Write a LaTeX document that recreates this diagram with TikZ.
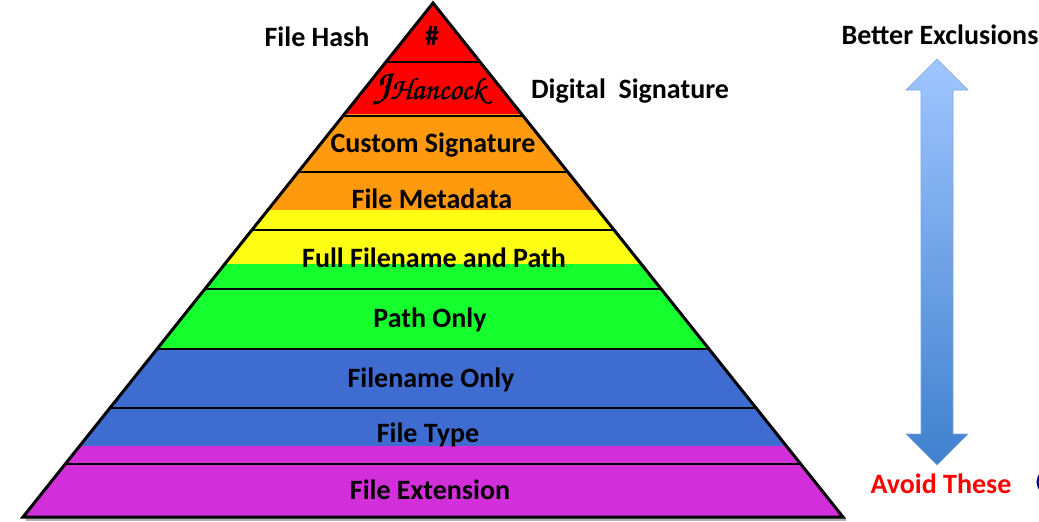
\documentclass[tikz,border=0pt]{standalone}
\usepackage{fontspec}
\setmainfont{Carlito}
\usetikzlibrary{calc}
\definecolor{cred}{HTML}{FF0000}
\definecolor{corange}{HTML}{FF9A0F}
\definecolor{cyellow}{HTML}{FFFF14}
\definecolor{cgreen}{HTML}{14FF2D}
\definecolor{cblue}{HTML}{3F6CD1}
\definecolor{cmag}{HTML}{D22FDA}
\definecolor{arrowtop}{HTML}{A0C6FF}
\definecolor{arrowbot}{HTML}{3F80CD}
\definecolor{arrowline}{HTML}{7FA6D8}
\tikzset{
  x=1pt,y=-1pt,
  divider/.style={draw=black,line width=2.5pt},
  outline/.style={draw=black,line width=3pt,line join=miter},
  lbl/.style={font=\fontsize{28}{28}\selectfont\bfseries,text=black,inner sep=0pt,anchor=base},
}
\begin{document}
\begin{tikzpicture}
\useasboundingbox (0,0) rectangle (1039,522);
\coordinate (apex) at (433,3);
\coordinate (bl) at (23,517);
\coordinate (br) at (843,517);
% soft shadow below the base
\fill[black!30] (26,518) rectangle (846,521);
\begin{scope}
\clip (apex) -- (br) -- (bl) -- cycle;
\fill[cred] (0,0) rectangle (1039,116);
\fill[corange] (0,114) rectangle (1039,210);
\fill[cyellow] (0,210) rectangle (1039,264);
\fill[cgreen] (0,264) rectangle (1039,349);
\fill[cblue] (0,349) rectangle (1039,446);
\fill[cmag] (0,446) rectangle (1039,522);
\foreach \yy in {62,116,172,230,289,349,408,464}
  \draw[divider] (0,\yy) -- (1039,\yy);
\end{scope}
\draw[outline] (apex) -- (br) -- (bl) -- cycle;
\node[lbl] (hash) at (317,46) {File Hash};
\node[lbl] (hsym) at (432,45) {\#};
\node[inner sep=0pt,anchor=base] (sig) at (429,99) {\special{pdf:code 2 Tr 0.35 w}\usefont{OT1}{pzc}{mb}{it}\fontsize{44}{44}\selectfont J\fontsize{31}{31}\selectfont Hancock\special{pdf:code 0 Tr 0 w}};
\node[lbl] (dsig) at (630,98) {Digital\ \ Signature};
\node[lbl] (cust) at (433,152) {Custom Signature};
\node[lbl] (meta) at (432,208) {File Metadata};
\node[lbl] (full) at (434,267) {Full Filename and Path};
\node[lbl] (path) at (430,327) {Path Only};
\node[lbl] (fname) at (431,387) {Filename Only};
\node[lbl] (ftype) at (428,442) {File Type};
\node[lbl] (fext) at (430,499) {File Extension};
\node[lbl] (better) at (940,44) {Better Exclusions};
\node[lbl,text=red] (avoid) at (941,493) {Avoid These};
% double arrow
\path[top color=arrowtop,bottom color=arrowbot,draw=arrowline,line width=0.6pt]
  (937,59) -- (968,90) -- (953,90) -- (953,434) -- (968,434) -- (937,465)
  -- (906,434) -- (921,434) -- (921,90) -- (906,90) -- cycle;
% cut-off shape at the right edge
\draw[draw=blue!50!black,line width=2pt] (1042,473) .. controls (1036,477) and (1036,487) .. (1042,491);
\end{tikzpicture}
\end{document}
